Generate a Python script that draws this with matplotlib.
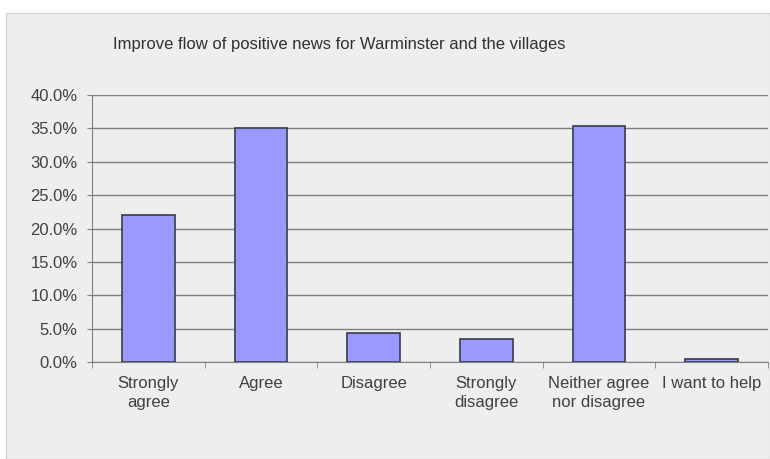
import matplotlib
matplotlib.use("Agg")
import matplotlib.pyplot as plt
from matplotlib.patches import Rectangle
from matplotlib.ticker import FixedLocator, FuncFormatter
import numpy as np

categories = ["Strongly\nagree", "Agree", "Disagree", "Strongly\ndisagree",
              "Neither agree\nnor disagree", "I want to help"]
values = [22.0, 35.1, 4.4, 3.4, 35.3, 0.4]
yticks = [0, 5, 10, 15, 20, 25, 30, 35, 40]
title = "Improve flow of positive news for Warminster and the villages"

plt.rcParams['font.family'] = ['Liberation Sans', 'DejaVu Sans']

fig = plt.figure(figsize=(7.7, 4.59), dpi=100, facecolor='white')
bg = Rectangle((6/770, 0), 1 - 6/770, 1 - 13/459, transform=fig.transFigure,
               facecolor='#eeeeee', edgecolor='#d4d4d4', linewidth=1, zorder=-10)
fig.patches.append(bg)

ax = fig.add_axes([92/770, 1 - 362/459, (768 - 92)/770, (362 - 95)/459])
ax.set_facecolor('none')

x = np.arange(len(categories))
ax.bar(x, values, width=0.47, color='#9999ff', edgecolor='#3a3a4a', linewidth=1.2, zorder=3)

ax.set_xlim(-0.5, len(categories) - 0.5)
ax.set_ylim(0, 40)
ax.yaxis.set_major_locator(FixedLocator(yticks))
ax.yaxis.set_major_formatter(FuncFormatter(lambda v, p: f"{v:.1f}%"))
ax.grid(axis='y', color='#7f7f7f', linewidth=1, zorder=1)
ax.set_axisbelow(True)

ax.set_xticks(x)
ax.set_xticklabels(categories, fontsize=12, color='#404040', linespacing=1.35)
ax.xaxis.set_minor_locator(FixedLocator(np.arange(-0.5, len(categories), 1)))
ax.tick_params(axis='x', which='major', length=0, pad=10)
ax.tick_params(axis='x', which='minor', length=4, color='#7f7f7f', direction='out')
ax.tick_params(axis='y', length=3.5, color='#7f7f7f', labelsize=12, labelcolor='#404040', pad=7)

for s in ['top', 'right']:
    ax.spines[s].set_visible(False)
ax.spines['left'].set_color('#7f7f7f')
ax.spines['bottom'].set_color('#7f7f7f')

fig.text(113/770, 1 - 45/459, title, fontsize=12, color='#303030', va='center', ha='left')

fig.savefig("out.png", dpi=100, facecolor=fig.get_facecolor())
